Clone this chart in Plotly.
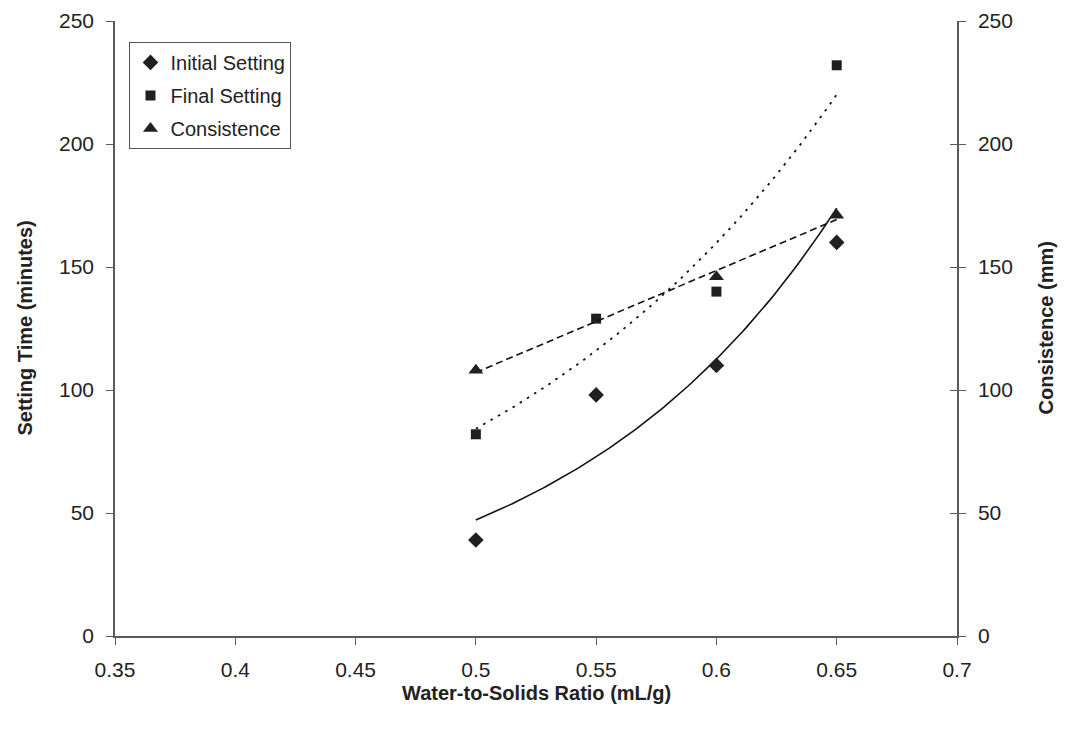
import numpy as np
import plotly.graph_objects as go

ratio = [0.5, 0.55, 0.6, 0.65]
initial_setting = [39, 98, 110, 160]
final_setting = [82, 129, 140, 232]
consistence = [108, None, 146, 171]

x_ticks = [0.35, 0.4, 0.45, 0.5, 0.55, 0.6, 0.65, 0.7]
y_ticks = [0, 50, 100, 150, 200, 250]

FONT = "Liberation Sans, Arial, sans-serif"
MK = "#231f20"
AX = "#5a5a5a"

xr = np.array(ratio)
xs = np.linspace(min(ratio), max(ratio), 120)


def exp_fit(x, y):
    b, a = np.polyfit(x, np.log(y), 1)
    return np.exp(a + b * xs)


def lin_fit(x, y):
    pts = [(xi, yi) for xi, yi in zip(x, y) if yi is not None]
    px = np.array([p[0] for p in pts]); py = np.array([p[1] for p in pts])
    b, a = np.polyfit(px, py, 1)
    return a + b * xs


fig = go.Figure()

# trend lines
fig.add_trace(go.Scatter(x=xs, y=exp_fit(xr, np.array(initial_setting)), mode="lines",
                         line=dict(color="#111", width=1.6), showlegend=False, hoverinfo="skip"))
fig.add_trace(go.Scatter(x=xs, y=exp_fit(xr, np.array(final_setting)), mode="lines",
                         line=dict(color="#111", width=1.8, dash="2.5px,6px"), showlegend=False, hoverinfo="skip"))
fig.add_trace(go.Scatter(x=xs, y=lin_fit(ratio, consistence), mode="lines", yaxis="y2",
                         line=dict(color="#111", width=1.6, dash="7px,4px"), showlegend=False, hoverinfo="skip"))

# markers
fig.add_trace(go.Scatter(x=ratio, y=initial_setting, mode="markers", name="Initial Setting",
                         legendgroup="a", marker=dict(symbol="diamond", size=12, color=MK)))
fig.add_trace(go.Scatter(x=ratio, y=final_setting, mode="markers", name="Final Setting",
                         legendgroup="b", marker=dict(symbol="square", size=10, color=MK)))
fig.add_trace(go.Scatter(x=ratio, y=consistence, mode="markers", name="Consistence", yaxis="y2",
                         legendgroup="c", marker=dict(symbol="triangle-up", size=13, color=MK)))

tickfont = dict(family=FONT, size=21, color="#222")

fig.update_layout(
    width=1067, height=736,
    margin=dict(l=107, r=118, t=13, b=108, autoexpand=False),
    paper_bgcolor="white", plot_bgcolor="white",
    font=dict(family=FONT, color="#222"),
    xaxis=dict(range=[0.35, 0.7], tickvals=x_ticks, ticktext=[f"{v:g}" for v in x_ticks],
               showgrid=False, zeroline=False, showline=True, linecolor=AX, linewidth=1.5,
               ticks="outside", ticklen=7, tickcolor=AX, tickfont=tickfont, ticklabelstandoff=7,
               automargin=False),
    yaxis=dict(range=[0, 250], tickvals=y_ticks, showgrid=False, zeroline=False,
               showline=True, linecolor=AX, linewidth=1.5, ticks="outside", ticklen=7,
               tickcolor=AX, tickfont=tickfont, ticklabelstandoff=8, automargin=False),
    yaxis2=dict(range=[0, 250], tickvals=y_ticks, overlaying="y", side="right",
                showgrid=False, zeroline=False, showline=True, linecolor=AX, linewidth=1.5,
                ticks="outside", ticklen=7, tickcolor=AX, tickfont=tickfont, ticklabelstandoff=8,
                automargin=False),
    yaxis3=dict(range=[0, 250], tickvals=y_ticks, overlaying="y", side="right",
                showgrid=False, zeroline=False, showline=False, ticks="inside", ticklen=7,
                tickcolor=AX, showticklabels=False, automargin=False),
    legend=dict(x=0.0172, y=0.966, xanchor="left", yanchor="top",
                bordercolor="#555", borderwidth=1, bgcolor="white", tracegroupgap=4,
                font=dict(family=FONT, size=20, color="#222"), itemwidth=30),
    annotations=[
        dict(text="<b>Water-to-Solids Ratio (mL/g)</b>", xref="paper", yref="paper",
             x=0.5, y=0, yshift=-57, xanchor="center", yanchor="middle", showarrow=False,
             font=dict(family=FONT, size=20, color="#222")),
        dict(text="<b>Setting Time (minutes)</b>", xref="paper", yref="paper",
             x=0, xshift=-91, y=0.5, xanchor="center", yanchor="middle", showarrow=False,
             textangle=-90, font=dict(family=FONT, size=20, color="#222")),
        dict(text="<b>Consistence (mm)</b>", xref="paper", yref="paper",
             x=1, xshift=88, y=0.5, xanchor="center", yanchor="middle", showarrow=False,
             textangle=-90, font=dict(family=FONT, size=20, color="#222")),
    ],
)
# dummy trace to activate yaxis3 (inside ticks on right axis)
fig.add_trace(go.Scatter(x=[None], y=[None], yaxis="y3", showlegend=False, hoverinfo="skip"))

fig.write_html("out.html")
